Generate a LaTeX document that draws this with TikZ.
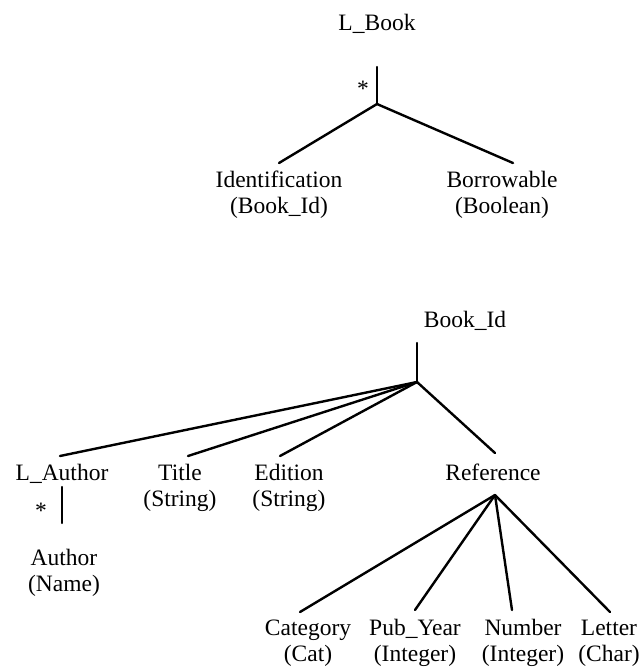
\documentclass[tikz,border=0pt]{standalone}
\usepackage{fontspec}
\setmainfont{Liberation Serif}
\begin{document}
\begin{tikzpicture}[x=1pt,y=-1pt,
  lbl/.style={font=\fontsize{23.5}{26}\selectfont, align=center, inner sep=0pt, anchor=base},
  star/.style={font=\fontsize{23.5}{26}\selectfont, inner sep=0pt, anchor=base},
  edge/.style={line width=2.4pt, line cap=round}]
\useasboundingbox (0,0) rectangle (643,667);

% ---- L_Book tree (labels are placed by the baseline of their last line) ----
\node[lbl] (lbook) at (377,30) {L\_Book};
\coordinate (lbtop) at (377,67);
\coordinate (lbj) at (377,104);
\node[star] (lbstar) at (363,96) {*};
\node[lbl] (ident) at (279,213) {Identification\\(Book\_Id)};
\node[lbl] (borrow) at (502,213) {Borrowable\\(Boolean)};
\draw[edge] (lbtop) -- (lbj);
\draw[edge] (lbj) -- ([yshift=50pt]ident.base);
\draw[edge] (lbj) -- ([xshift=11pt,yshift=50pt]borrow.base);

% ---- Book_Id tree ----
\node[lbl] (bookid) at (465,327) {Book\_Id};
\coordinate (bitop) at (417,343);
\coordinate (bij) at (417,382);
\node[lbl] (lauthor) at (62,480) {L\_Author};
\node[lbl] (title) at (180,506) {Title\\(String)};
\node[lbl] (edition) at (289,506) {Edition\\(String)};
\node[lbl] (reference) at (493,480) {Reference};
\draw[edge] (bitop) -- (bij);
\draw[edge] (bij) -- ([xshift=-2pt,yshift=24pt]lauthor.base);
\draw[edge] (bij) -- ([xshift=8pt,yshift=50pt]title.base);
\draw[edge] (bij) -- ([xshift=-9pt,yshift=50pt]edition.base);
\draw[edge] (bij) -- ([xshift=2pt,yshift=27pt]reference.base);

% ---- L_Author list ----
\coordinate (latop) at (62,487);
\coordinate (labot) at (62,523);
\node[star] (lastar) at (41,518) {*};
\node[lbl] (author) at (64,591) {Author\\(Name)};
\draw[edge] (latop) -- (labot);

% ---- Reference fields ----
\coordinate (refj) at (495,495);
\node[lbl] (category) at (308,661) {Category\\(Cat)};
\node[lbl] (pubyear) at (415,661) {Pub\_Year\\(Integer)};
\node[lbl] (number) at (523,661) {Number\\(Integer)};
\node[lbl] (letter) at (609,661) {Letter\\(Char)};
\draw[edge] (refj) -- ([xshift=-8pt,yshift=49pt]category.base);
\draw[edge] (refj) -- ([yshift=51pt]pubyear.base);
\draw[edge] (refj) -- ([xshift=-11pt,yshift=51pt]number.base);
\draw[edge] (refj) -- ([xshift=1pt,yshift=49pt]letter.base);
\end{tikzpicture}
\end{document}
